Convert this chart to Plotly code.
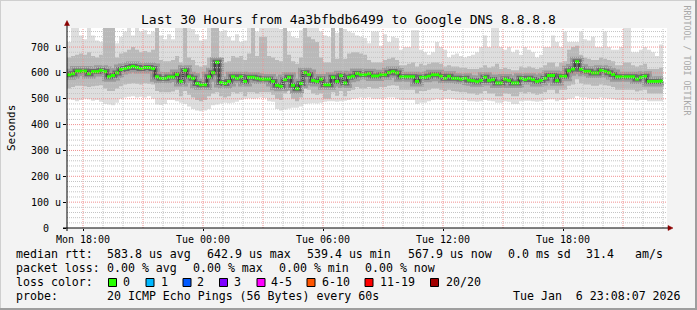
import plotly.graph_objects as go
from datetime import datetime, timedelta

# ---------------- data (values in microseconds) ----------------
t_start = datetime(2026, 1, 5, 17, 12)
t_end = t_start + timedelta(hours=30)
step_minutes = 12

median = [
    593, 597, 607, 607, 607, 597, 605, 605, 610, 605, 585, 590, 600, 613, 617, 621, 625, 621, 617, 621, 621, 617, 585, 579, 579,
    584, 584, 594, 567, 610, 585, 579, 559, 554, 554, 585, 601, 641, 563, 559, 567, 585, 579, 585, 567, 583, 583, 579, 576, 576,
    576, 567, 552, 548, 574, 583, 552, 539, 559, 601, 594, 571, 567, 576, 554, 554, 583, 567, 589, 561, 583, 587, 598, 593, 593,
    597, 588, 588, 593, 593, 601, 605, 600, 585, 585, 585, 585, 567, 583, 583, 587, 593, 593, 587, 579, 587, 579, 579, 576, 579, 572,
    570, 566, 571, 583, 571, 574, 561, 561, 576, 571, 561, 561, 579, 574, 579, 574, 567, 571, 579, 590, 590, 570, 587, 587, 608, 615,
    643, 614, 606, 606, 600, 600, 610, 606, 601, 594, 585, 585, 585, 585, 585, 576, 583, 587, 567, 567, 567, 568,
]
smoke_max = [
    720, 775, 775, 745, 730, 775, 745, 725, 720, 775, 775, 775, 715, 740, 760, 775, 745, 775, 760, 765, 750, 760, 775, 745, 730,
    750, 730, 775, 775, 775, 775, 770, 750, 725, 730, 775, 775, 775, 760, 765, 740, 725, 750, 720, 725, 775, 775, 760, 775, 775,
    775, 775, 775, 770, 775, 760, 740, 735, 765, 775, 775, 775, 775, 760, 745, 740, 775, 755, 775, 770, 760, 755, 745, 740, 735,
    715, 760, 760, 705, 750, 720, 740, 735, 690, 700, 700, 765, 765, 690, 680, 670, 680, 720, 700, 690, 660, 670, 675, 665, 660, 665,
    670, 680, 700, 745, 700, 775, 775, 700, 690, 700, 680, 690, 670, 700, 690, 680, 660, 670, 700, 700, 745, 720, 700, 760, 720, 720,
    720, 760, 730, 725, 740, 700, 700, 760, 700, 690, 690, 700, 775, 775, 680, 680, 690, 700, 690, 680, 665, 710,
]
smoke_hi = [
    660, 665, 670, 675, 670, 680, 665, 660, 670, 775, 775, 775, 660, 675, 680, 690, 700, 690, 680, 685, 680, 690, 775, 650, 645,
    645, 650, 665, 640, 775, 660, 650, 630, 625, 630, 660, 775, 775, 650, 640, 645, 665, 660, 665, 650, 675, 775, 665, 740, 740,
    665, 660, 650, 645, 775, 670, 645, 635, 660, 775, 740, 730, 720, 660, 640, 640, 775, 655, 775, 655, 675, 680, 680, 675, 670,
    650, 640, 640, 640, 650, 655, 660, 650, 630, 630, 635, 640, 625, 635, 630, 635, 640, 640, 635, 625, 630, 625, 625, 620, 620, 615,
    615, 615, 620, 630, 620, 625, 635, 615, 620, 615, 610, 610, 625, 620, 625, 620, 615, 620, 630, 640, 640, 625, 640, 645, 690, 700,
    705, 670, 660, 655, 650, 650, 660, 655, 650, 645, 630, 630, 640, 640, 630, 625, 630, 635, 615, 615, 615, 620,
]
smoke_lo = [
    540, 545, 550, 550, 548, 545, 548, 550, 552, 540, 530, 530, 540, 548, 555, 558, 560, 558, 555, 560, 558, 555, 530, 525, 525,
    525, 528, 535, 510, 530, 515, 505, 495, 490, 495, 510, 520, 525, 510, 505, 510, 525, 520, 525, 510, 525, 525, 520, 525, 525,
    525, 515, 500, 495, 520, 530, 500, 490, 505, 540, 535, 520, 515, 520, 500, 500, 525, 512, 530, 510, 530, 535, 545, 540, 540,
    545, 540, 540, 545, 545, 550, 552, 550, 535, 535, 535, 535, 520, 530, 530, 535, 540, 540, 535, 530, 535, 530, 528, 525, 525, 520,
    520, 515, 520, 530, 520, 520, 510, 510, 520, 518, 510, 510, 525, 520, 525, 520, 515, 518, 525, 535, 535, 520, 535, 535, 550, 555,
    575, 560, 555, 555, 550, 550, 555, 552, 550, 545, 535, 535, 535, 535, 535, 528, 532, 535, 520, 520, 520, 520,
]
smoke_min = [
    498, 495, 490, 495, 500, 498, 492, 495, 488, 480, 478, 475, 485, 500, 505, 508, 510, 505, 508, 505, 510, 500, 478, 476, 480,
    495, 495, 490, 485, 480, 470, 460, 455, 452, 455, 460, 475, 478, 482, 485, 483, 485, 488, 495, 500, 502, 500, 502, 505, 503,
    490, 488, 460, 455, 458, 462, 465, 465, 470, 480, 482, 483, 482, 485, 488, 490, 490, 488, 490, 492, 495, 500, 502, 505, 503,
    505, 500, 500, 500, 502, 505, 505, 500, 495, 495, 495, 495, 480, 485, 485, 490, 495, 498, 495, 500, 500, 498, 495, 495, 495, 490,
    490, 488, 490, 495, 492, 490, 485, 485, 490, 488, 480, 480, 490, 492, 492, 490, 488, 490, 495, 498, 498, 490, 495, 495, 500, 502,
    510, 505, 505, 502, 500, 500, 505, 502, 500, 498, 495, 495, 495, 495, 495, 492, 495, 495, 490, 490, 490, 490,
]

x_tick_times = [datetime(2026, 1, 5, 18, 0) + timedelta(hours=6 * k) for k in range(5)]
x_tick_labels = ["Mon 18:00", "Tue 00:00", "Tue 06:00", "Tue 12:00", "Tue 18:00"]
y_tick_vals = [0, 100, 200, 300, 400, 500, 600, 700]
y_tick_labels = ["0\u00a0\u00a0", "100 u", "200 u", "300 u", "400 u", "500 u", "600 u", "700 u"]
y_max = 773.7

title_text = "Last 30 Hours from 4a3bfbdb6499 to Google DNS 8.8.8.8"
legend_rows = [
    [("median rtt:", 16), ("583.8 us avg", 107.3), ("642.9 us max", 207.3), ("539.4 us min", 306.7),
     ("567.9 us now", 407.7), ("0.0 ms sd", 507.7), ("31.4", 586), ("am/s", 635)],
    [("packet loss:", 16), ("0.00 % avg", 107.3), ("0.00 % max", 193.3), ("0.00 % min", 279.3), ("0.00 % now", 365)],
    [("loss color:", 16)],
    [("probe:", 16), ("20 ICMP Echo Pings (56 Bytes) every 60s", 107.3), ("Tue Jan\u00a0\u00a06 23:08:07 2026", 513.3)],
]
legend_row_y = [254.3, 267.7, 281.8, 296.0]
loss_labels = ["0", "1", "2", "3", "4-5", "6-10", "11-19", "20/20"]
loss_colors = ["#26ff00", "#00b8ff", "#0059ff", "#7e00ff", "#ff00ff", "#ff5500", "#ff0000", "#a10000"]
loss_box_x = [108.5, 146.0, 183.0, 219.5, 257.0, 307.0, 365.0, 430.5]
loss_label_x = [123.3, 160.7, 197.3, 234.3, 271.0, 321.7, 380.0, 446.0]

# ---------------- geometry helpers (pixel -> paper) ----------------
W, H = 697, 310
PL, PR, PT, PB = 67, 667, 28, 228
def px(x):
    return (x - PL) / (PR - PL)
def py(y):
    return (PB - y) / (PB - PT)

MONO = "DejaVu Sans Mono"
n = len(median)
edges = [t_start + timedelta(minutes=step_minutes * i) for i in range(n + 1)]
def stepy(v):
    return list(v) + [v[-1]]

fig = go.Figure()

def band(lo, hi, color):
    fig.add_trace(go.Scatter(x=edges, y=stepy(lo), mode="lines", line=dict(width=0, shape="hv"),
                             hoverinfo="skip", showlegend=False))
    fig.add_trace(go.Scatter(x=edges, y=stepy(hi), mode="lines", line=dict(width=0, shape="hv"),
                             fill="tonexty", fillcolor=color, hoverinfo="skip", showlegend=False))

band(smoke_min, smoke_max, "#dedede")
band(smoke_lo, smoke_hi, "#b9b9b9")
fig.add_trace(go.Scatter(x=edges, y=stepy(median), mode="lines",
                         line=dict(color="#9a9a9a", width=10, shape="hv"), hoverinfo="skip", showlegend=False))
fig.add_trace(go.Scatter(x=edges, y=stepy(median), mode="lines",
                         line=dict(color="#6a6a6a", width=5, shape="hv"), hoverinfo="skip", showlegend=False))
fig.add_trace(go.Scatter(x=edges, y=stepy(median), mode="lines",
                         line=dict(color="#202020", width=1, shape="hv"), hoverinfo="skip", showlegend=False))
gx, gy = [], []
for i, m in enumerate(median):
    gx += [edges[i], edges[i + 1], None]
    gy += [m, m, None]
fig.add_trace(go.Scatter(x=gx, y=gy, mode="lines", line=dict(color="#26ff00", width=3),
                         connectgaps=False, hoverinfo="skip", showlegend=False))

shapes = []
# grid
k = 0
t = datetime(2026, 1, 5, 18, 0)
while t < t_end:
    major = (k % 3 == 0)
    shapes.append(dict(type="line", xref="x", yref="paper", x0=t, x1=t, y0=0, y1=1, layer="above",
                       line=dict(color="#f09090" if major else "#c4c4c4", width=1, dash="1px,1px")))
    t += timedelta(hours=1)
    k += 1
for v in range(20, int(y_max), 20):
    major = (v % 100 == 0)
    shapes.append(dict(type="line", xref="paper", yref="y", x0=0, x1=1, y0=v, y1=v, layer="above",
                       line=dict(color="#f09090" if major else "#c4c4c4", width=1, dash="1px,1px")))
# axes with arrows
shapes.append(dict(type="line", xref="paper", yref="paper", x0=px(67), x1=px(67), y0=py(231), y1=py(23),
                   layer="above", line=dict(color="#000000", width=1)))
shapes.append(dict(type="line", xref="paper", yref="paper", x0=px(63), x1=px(670), y0=py(228), y1=py(228),
                   layer="above", line=dict(color="#000000", width=1)))
shapes.append(dict(type="path", xref="paper", yref="paper", layer="above",
                   path=f"M {px(64.5)} {py(25.5)} L {px(69.5)} {py(25.5)} L {px(67)} {py(20.5)} Z",
                   fillcolor="#8b0000", line=dict(color="#8b0000", width=0.5)))
shapes.append(dict(type="path", xref="paper", yref="paper", layer="above",
                   path=f"M {px(668)} {py(225.5)} L {px(668)} {py(230.5)} L {px(673)} {py(228)} Z",
                   fillcolor="#8b0000", line=dict(color="#8b0000", width=0.5)))
# frame
shapes.append(dict(type="rect", xref="paper", yref="paper", x0=px(0), x1=px(697), y0=py(0), y1=py(1),
                   line=dict(width=0), fillcolor="#cfcfcf", layer="below"))
shapes.append(dict(type="rect", xref="paper", yref="paper", x0=px(0), x1=px(1), y0=py(0), y1=py(310),
                   line=dict(width=0), fillcolor="#cfcfcf", layer="below"))
shapes.append(dict(type="rect", xref="paper", yref="paper", x0=px(0), x1=px(697), y0=py(308), y1=py(310),
                   line=dict(width=0), fillcolor="#9e9e9e", layer="below"))
shapes.append(dict(type="rect", xref="paper", yref="paper", x0=px(695), x1=px(697), y0=py(0), y1=py(310),
                   line=dict(width=0), fillcolor="#9e9e9e", layer="below"))
# loss colour boxes
for bx, col in zip(loss_box_x, loss_colors):
    shapes.append(dict(type="rect", xref="paper", yref="paper", x0=px(bx), x1=px(bx + 8),
                       y0=py(278.5), y1=py(286.5), fillcolor=col, line=dict(color="#000000", width=1)))

annotations = []
def ann(text, x, y, size=11.6, anchor="left", color="#000000", angle=0):
    annotations.append(dict(text=text, x=px(x), y=py(y), xref="paper", yref="paper", showarrow=False,
                            xanchor=anchor, yanchor="middle", textangle=angle, borderpad=0,
                            font=dict(family=MONO, size=size, color=color)))

ann(title_text, 348.5, 19.0, size=13.0, anchor="center")
for row, yy in zip(legend_rows, legend_row_y):
    for text, xx in row:
        ann(text, xx - 1, yy)
for lab, lx in zip(loss_labels, loss_label_x):
    ann(lab, lx - 1, legend_row_y[2])
ann("Seconds", 11, 128, size=11, anchor="center", angle=-90)
ann("RRDTOOL / TOBI OETIKER", 686.5, 60, size=8.3, anchor="center", color="#a8a8a8", angle=90)

fig.update_layout(
    width=W, height=H, margin=dict(l=PL, r=W - PR, t=PT, b=H - PB, pad=0),
    paper_bgcolor="#f3f3f3", plot_bgcolor="#ffffff", showlegend=False,
    font=dict(family=MONO, size=10, color="#000000"),
    shapes=shapes, annotations=annotations,
)
fig.update_xaxes(range=[t_start, t_end], showgrid=False, zeroline=False, showline=False,
                 tickmode="array", tickvals=x_tick_times, ticktext=x_tick_labels,
                 ticks="outside", ticklen=2, tickcolor="#000000", tickfont=dict(family=MONO, size=10))
fig.update_yaxes(range=[0, y_max], showgrid=False, zeroline=False, showline=False,
                 tickmode="array", tickvals=y_tick_vals, ticktext=y_tick_labels,
                 ticks="outside", ticklen=3, tickcolor="#000000", tickfont=dict(family=MONO, size=10))

fig.write_html("out.html")
